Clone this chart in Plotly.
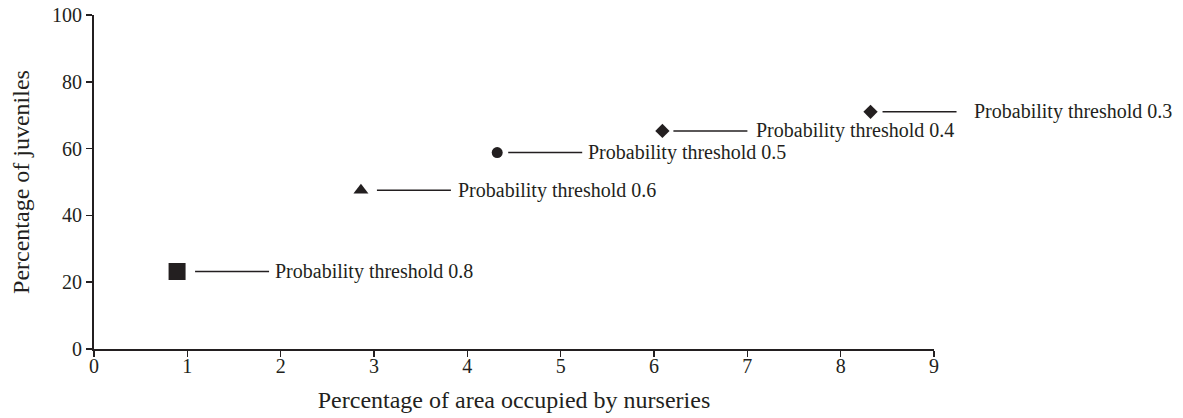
import plotly.graph_objects as go

# Data
thresholds = ["0.8", "0.6", "0.5", "0.4", "0.3"]
area_pct = [0.89, 2.86, 4.32, 6.09, 8.32]
juvenile_pct = [23.2, 47.5, 58.8, 65.3, 71.0]
x_ticks = [0, 1, 2, 3, 4, 5, 6, 7, 8, 9]
y_ticks = [0, 20, 40, 60, 80, 100]

# Styles
symbols = ["square", "triangle-up", "circle", "diamond", "diamond"]
sizes = [17, 13, 11, 11, 11]
gap_px = [18, 16, 11, 11, 12]
text_gap_px = [4, 5, 4, 7, 15]
line_len_px = 74
INK = "#231f20"
FONT = "Liberation Serif, Times New Roman, serif"
FS_TEXT = 20
FS_TICK = 20
FS_TITLE = 24

X_RANGE = [0, 9]
Y_RANGE = [0, 100]
L, R, T, B = 94, 249, 15, 69
W, H = 1183, 418
plot_w = W - L - R


def to_paper_x(v):
    return (v - X_RANGE[0]) / (X_RANGE[1] - X_RANGE[0])


def to_paper_y(v):
    return (v - Y_RANGE[0]) / (Y_RANGE[1] - Y_RANGE[0])


fig = go.Figure()
fig.add_trace(go.Scatter(
    x=area_pct, y=juvenile_pct, mode="markers",
    marker=dict(symbol=symbols, size=sizes, color=INK, opacity=1, line=dict(width=0)),
    showlegend=False, cliponaxis=False, hoverinfo="skip"))

for i, th in enumerate(thresholds):
    px0 = to_paper_x(area_pct[i]) + gap_px[i] / plot_w
    px1 = px0 + line_len_px / plot_w
    py = to_paper_y(juvenile_pct[i])
    fig.add_shape(type="line", xref="paper", yref="paper", x0=px0, x1=px1,
                  y0=py, y1=py, line=dict(color=INK, width=1.5))
    fig.add_annotation(x=px1 + text_gap_px[i] / plot_w, y=py,
                       xref="paper", yref="paper", text="Probability threshold " + th,
                       showarrow=False, xanchor="left", yanchor="middle",
                       font=dict(family=FONT, size=FS_TEXT, color=INK))

fig.update_layout(
    template="none",
    width=W, height=H,
    margin=dict(l=L, r=R, t=T, b=B, autoexpand=False),
    paper_bgcolor="white", plot_bgcolor="white",
    font=dict(family=FONT, size=FS_TICK, color=INK),
)
fig.update_xaxes(
    range=X_RANGE, tickvals=x_ticks, ticks="outside", ticklen=6, tickwidth=1.5,
    tickcolor=INK, showline=True, linecolor=INK, linewidth=2, showgrid=False,
    zeroline=False, automargin=False, tickfont=dict(size=FS_TICK),
    ticklabelstandoff=-8, ticklabeloverflow="allow",
    title=dict(text="Percentage of area occupied by nurseries", standoff=15,
               font=dict(size=FS_TITLE)),
)
fig.update_yaxes(
    range=Y_RANGE, tickvals=y_ticks, ticks="outside", ticklen=6, tickwidth=1.5,
    tickcolor=INK, showline=True, linecolor=INK, linewidth=2, showgrid=False,
    zeroline=False, automargin=False, tickfont=dict(size=FS_TICK),
    ticklabeloverflow="allow",
    title=dict(text="Percentage of juveniles", standoff=16, font=dict(size=FS_TITLE)),
)

fig.write_html(
    "out.html",
    config={"displayModeBar": False, "staticPlot": True},
    post_script="document.body.style.margin='0';document.body.style.overflow='hidden';",
)
